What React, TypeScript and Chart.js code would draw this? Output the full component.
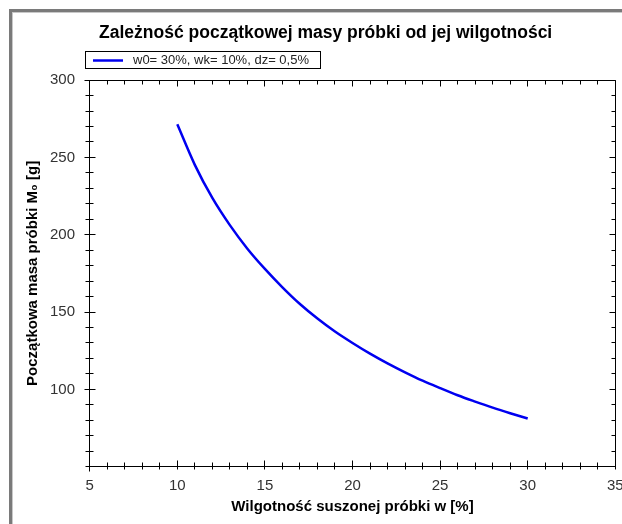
import React, { useEffect, useRef } from "react";
import { Chart, registerables } from "chart.js";

Chart.register(...registerables);

const TITLE = "Zależność początkowej masy próbki od jej wilgotności";
const X_TITLE = "Wilgotność suszonej próbki w [%]";
const Y_TITLE = "Początkowa masa próbki M₀ [g]";
const SERIES_LABEL = "w0= 30%, wk= 10%, dz= 0,5%";

// moisture of the dried sample w [%]
const moisture = [10, 11, 12, 13, 14, 15, 16, 17, 18, 19, 20, 21, 22, 23, 24, 25, 26, 27, 28, 29, 30];
// initial mass of the sample M0 [g]
const initialMass = [
  271.4, 245.2, 223.8, 206.2, 191.0, 177.9, 166.0, 155.2, 145.8, 137.4, 130.0,
  123.1, 116.8, 111.0, 105.6, 100.8, 96.2, 92.1, 88.2, 84.6, 81.2,
];

const xTickLabels = [5, 10, 15, 20, 25, 30, 35];
const yTickLabels = [100, 150, 200, 250, 300];
const X_MIN = 5;
const X_MAX = 35;
const Y_MIN = 50;
const Y_MAX = 300;
const X_MINOR_STEP = 1;
const Y_MINOR_STEP = 10;

const FONT = "'Liberation Sans', Arial, sans-serif";
const LINE_COLOR = "#0000f0";

function align(p: number) {
  return Math.round(p - 0.5) + 0.5;
}

const decorPlugin = {
  id: "decor",
  beforeDraw(chart: any) {
    const ctx = chart.ctx;
    ctx.save();
    ctx.fillStyle = "#ffffff";
    ctx.fillRect(0, 0, chart.width, chart.height);
    ctx.fillStyle = "#7a7a7a";
    ctx.fillRect(9, 9, 3, chart.height);
    ctx.fillRect(9, 9, chart.width, 3);
    ctx.fillStyle = "#c8c8c8";
    ctx.fillRect(12, 12, 1, chart.height);
    ctx.fillRect(12, 12, chart.width, 1);
    ctx.restore();
  },
  afterDraw(chart: any) {
    const { ctx, chartArea: ca, scales } = chart;
    const xs = scales.x;
    const ys = scales.y;
    const L = align(ca.left);
    const R = align(ca.right);
    const T = align(ca.top);
    const B = align(ca.bottom);
    ctx.save();
    ctx.strokeStyle = "#000000";
    ctx.lineWidth = 1;
    ctx.beginPath();
    // frame of plot area
    ctx.moveTo(L, T);
    ctx.lineTo(R, T);
    ctx.lineTo(R, B);
    ctx.moveTo(L - 0.5, B);
    ctx.lineTo(R, B);
    ctx.moveTo(L, T);
    ctx.lineTo(L, B + 5);
    // x ticks
    for (let v = X_MIN; v <= X_MAX + 1e-9; v += X_MINOR_STEP) {
      const major = xTickLabels.includes(v);
      const px = align(xs.getPixelForValue(v));
      // bottom
      ctx.moveTo(px, B - (major ? 6 : 4));
      ctx.lineTo(px, B + (major ? 3 : 3));
      // top (inward)
      ctx.moveTo(px, T);
      ctx.lineTo(px, T + (major ? 6 : 4));
    }
    // y ticks
    for (let v = Y_MIN; v <= Y_MAX + 1e-9; v += Y_MINOR_STEP) {
      const major = yTickLabels.includes(v);
      const py = align(ys.getPixelForValue(v));
      // left (crossing)
      ctx.moveTo(L - (major ? 5 : 4), py);
      ctx.lineTo(L + (major ? 6 : 4), py);
      // right (inward)
      ctx.moveTo(R, py);
      ctx.lineTo(R - (major ? 6 : 4), py);
    }
    ctx.stroke();

    // legend
    ctx.fillStyle = "#ffffff";
    ctx.fillRect(86, 52, 235, 16);
    ctx.strokeStyle = "#000000";
    ctx.lineWidth = 1;
    ctx.strokeRect(85.5, 51.5, 235, 17);
    ctx.beginPath();
    ctx.strokeStyle = LINE_COLOR;
    ctx.lineWidth = 2.5;
    ctx.moveTo(93, 60.5);
    ctx.lineTo(123, 60.5);
    ctx.stroke();
    ctx.fillStyle = "#222222";
    ctx.font = `13px ${FONT}`;
    ctx.textBaseline = "middle";
    ctx.textAlign = "left";
    ctx.fillText(chart.data.datasets[0].label, 133, 60.5);
    ctx.restore();
  },
};

export default function App() {
  const canvasRef = useRef<HTMLCanvasElement | null>(null);

  useEffect(() => {
    if (!canvasRef.current) return;
    Chart.defaults.font.family = FONT;
    const points = moisture.map((w, i) => ({ x: w, y: initialMass[i] }));
    const chart = new Chart(canvasRef.current, {
      type: "line",
      data: {
        datasets: [
          {
            label: SERIES_LABEL,
            data: points,
            borderColor: LINE_COLOR,
            backgroundColor: LINE_COLOR,
            borderWidth: 2.5,
            pointRadius: 0,
            cubicInterpolationMode: "monotone",
            fill: false,
          },
        ],
      },
      options: {
        responsive: false,
        animation: false,
        events: [],
        layout: { padding: { left: 36, right: 6.7, top: 0, bottom: 0 } },
        plugins: {
          legend: { display: false },
          tooltip: { enabled: false },
          title: {
            display: true,
            text: TITLE,
            color: "#000000",
            font: { family: FONT, size: 17.5, weight: "bold" },
            padding: { top: 22.4, bottom: 36.7 },
          },
        },
        scales: {
          x: {
            type: "linear",
            min: X_MIN,
            max: X_MAX,
            grid: { display: false, drawTicks: false },
            border: { display: false },
            ticks: {
              color: "#333333",
              font: { family: FONT, size: 15 },
              padding: 9.8,
              maxRotation: 0,
              autoSkip: false,
            },
            afterBuildTicks: (scale: any) => {
              scale.ticks = xTickLabels.map((value) => ({ value }));
            },
            afterFit: (scale: any) => {
              scale.height = 57.3;
              scale.paddingLeft = 0;
              scale.paddingRight = 0;
            },
            title: {
              display: true,
              text: X_TITLE,
              color: "#000000",
              font: { family: FONT, size: 15, weight: "bold" },
              padding: { top: 0, bottom: 8 },
            },
          },
          y: {
            type: "linear",
            min: Y_MIN,
            max: Y_MAX,
            grid: { display: false, drawTicks: false },
            border: { display: false },
            ticks: {
              color: "#333333",
              font: { family: FONT, size: 15 },
              padding: 14.7,
              autoSkip: false,
            },
            afterBuildTicks: (scale: any) => {
              scale.ticks = yTickLabels.map((value) => ({ value }));
            },
            afterFit: (scale: any) => {
              scale.width = 53.7;
              scale.paddingTop = 0;
              scale.paddingBottom = 0;
            },
            title: {
              display: true,
              text: Y_TITLE,
              color: "#000000",
              font: { family: FONT, size: 15, weight: "bold" },
              padding: { top: -12.5, bottom: 0 },
            },
          },
        },
      },
      plugins: [decorPlugin],
    } as any);
    return () => chart.destroy();
  }, []);

  return (
    <div style={{ position: "fixed", left: 0, top: 0, width: 622, height: 524, background: "#fff", overflow: "hidden" }}>
      <canvas ref={canvasRef} width={622} height={524} style={{ display: "block" }} />
    </div>
  );
}
